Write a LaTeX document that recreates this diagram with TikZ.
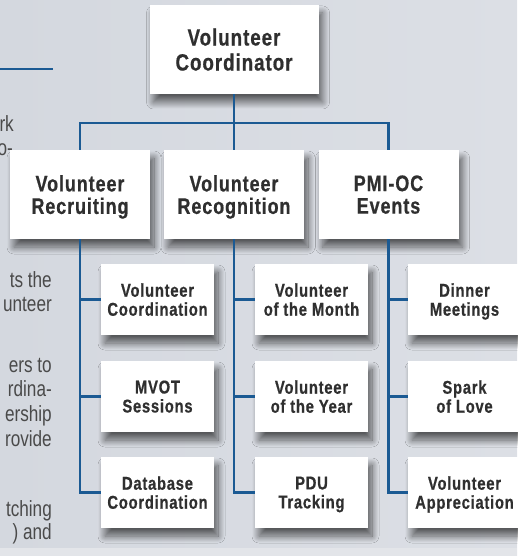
\documentclass[tikz,border=0pt]{standalone}
\usepackage{fontspec}
\setmainfont{Liberation Sans}
\newfontfamily\cfont{Liberation Sans}[FakeStretch=0.8,LetterSpace=4,BoldFeatures={FakeBold=0.6}]
\newfontfamily\bodyfont{Liberation Sans}[FakeStretch=0.78]
\usetikzlibrary{shadows.blur}
\definecolor{bgA}{HTML}{D4D8DF}
\definecolor{bgB}{HTML}{DCDFE5}
\definecolor{bgC}{HTML}{E3E5E9}
\definecolor{lineblue}{HTML}{1B5A93}
\definecolor{txt}{HTML}{2F2F2F}
\definecolor{bodytxt}{HTML}{4A4A4A}
\begin{document}
\begin{tikzpicture}[x=1pt,y=-1pt,
  box/.style={fill=white, inner sep=0pt, align=center, text=txt, text depth=0pt,
    blur shadow={shadow xshift=4pt, shadow yshift=-8pt, shadow blur radius=7pt, shadow blur steps=14, shadow opacity=60}},
  topbox/.style={box, minimum width=169pt, minimum height=89pt, font=\cfont\bfseries\fontsize{23.5}{25}\selectfont},
  midbox/.style={box, minimum width=140pt, minimum height=89pt, font=\cfont\bfseries\fontsize{22.5}{22.5}\selectfont},
  subbox/.style={box, minimum width=113pt, minimum height=71pt, font=\cfont\bfseries\fontsize{18.5}{19}\selectfont},
  conn/.style={draw=lineblue, line width=2.4pt},
  frag/.style={anchor=base east, inner sep=0pt, text=bodytxt, font=\bodyfont\fontsize{22}{23}\selectfont}]
\useasboundingbox (0,0) rectangle (517,556);
\shade[left color=bgA, right color=bgB] (0,0) rectangle (517,556);
\fill[bgC] (0,548) rectangle (517,556);
% clipped body text at the left
\draw[lineblue, line width=1.5pt] (0,69) -- (53,69);
\node[frag] (f1) at (14,132) {rk};
\node[frag] (f2) at (13,156) {o-};
\node[frag] (f3) at (52,287) {ts the};
\node[frag] (f4) at (52,311) {unteer};
\node[frag] (f5) at (52,372) {ers to};
\node[frag] (f6) at (52,396) {rdina-};
\node[frag] (f7) at (52,421) {ership};
\node[frag] (f8) at (52,446) {rovide};
\node[frag] (f9) at (52,516) {tching};
\node[frag] (f10) at (52,539) {) and};
% boxes
\node[topbox] (top) at (234,49.5) {Volunteer\\Coordinator};
\node[midbox] (r1) at (80,194.5) {Volunteer\\Recruiting};
\node[midbox] (r2) at (234,194.5) {Volunteer\\Recognition};
\node[midbox] (r3) at (388.5,194.5) {PMI-OC\\Events};
\node[subbox] (a1) at (157.5,299.5) {Volunteer\\Coordination};
\node[subbox] (a2) at (157.5,396.5) {MVOT\\Sessions};
\node[subbox] (a3) at (157.5,492.5) {Database\\Coordination};
\node[subbox] (b1) at (311.5,299.5) {Volunteer\\of the Month};
\node[subbox] (b2) at (311.5,396.5) {Volunteer\\of the Year};
\node[subbox] (b3) at (311.5,492.5) {PDU\\Tracking};
\node[subbox] (c1) at (464.5,299.5) {Dinner\\Meetings};
\node[subbox] (c2) at (464.5,396.5) {Spark\\of Love};
\node[subbox] (c3) at (464.5,492.5) {Volunteer\\Appreciation};
% connectors
\coordinate (bus) at (0,123);
\draw[conn] (top.south) -- (top.south |- bus);
\draw[conn] (r1.north) -- (r1.north |- bus) -- (r3.north |- bus) -- (r3.north);
\draw[conn] (r2.north) -- (r2.north |- bus);
\draw[conn] (r1.south) -- (r1.south |- a3.west) -- (a3.west);
\draw[conn] (r1.south |- a1.west) -- (a1.west);
\draw[conn] (r1.south |- a2.west) -- (a2.west);
\draw[conn] (r2.south) -- (r2.south |- b3.west) -- (b3.west);
\draw[conn] (r2.south |- b1.west) -- (b1.west);
\draw[conn] (r2.south |- b2.west) -- (b2.west);
\draw[conn] (r3.south) -- (r3.south |- c3.west) -- (c3.west);
\draw[conn] (r3.south |- c1.west) -- (c1.west);
\draw[conn] (r3.south |- c2.west) -- (c2.west);
\end{tikzpicture}
\end{document}
